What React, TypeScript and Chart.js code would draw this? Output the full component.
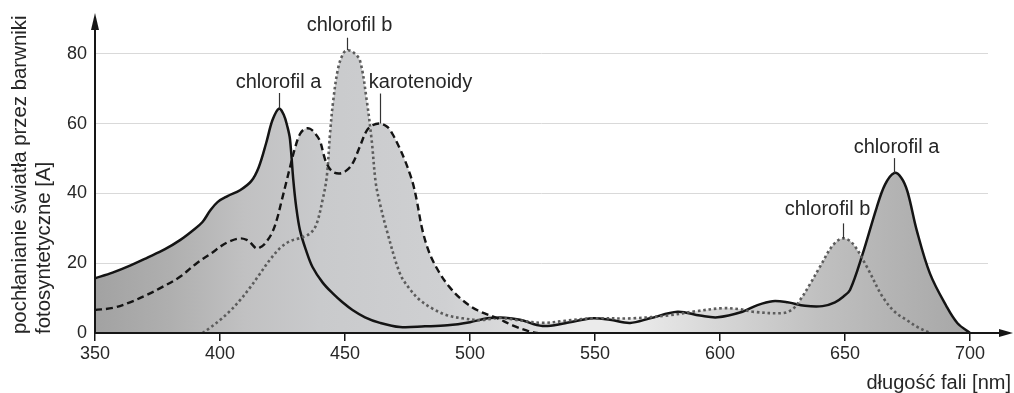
import React, { useEffect, useRef } from "react";
import { Chart, registerables } from "chart.js";

Chart.register(...registerables);

// ---- data ----
const wavelengthTicks = [350, 400, 450, 500, 550, 600, 650, 700];
const absorbanceTicks = [0, 20, 40, 60, 80];

const chlorophyllA_nm = [350, 357, 364, 371, 378, 384, 389, 393, 396, 399, 403, 408, 412.5, 415.5, 418.5, 421, 423.6, 425.5, 427, 428, 429.3, 430.5, 432, 434.5, 437, 441, 445, 449, 453, 458, 464, 472, 482, 491, 500, 507, 514, 520, 529, 538, 549, 556, 564, 572, 583, 592, 599, 609, 615, 621, 627, 634, 641, 646, 649.3, 652, 657, 662.7, 666, 669.6, 672.5, 675, 678.7, 684, 690.7, 695, 700];
const chlorophyllA_abs = [15.7, 17.3, 19.3, 21.6, 24.0, 26.6, 29.3, 31.8, 35.0, 37.5, 39.2, 40.9, 43.5, 47.5, 54.5, 61.0, 64.3, 62.5, 59.0, 55.5, 44.0, 36.0, 29.4, 23.5, 18.9, 14.5, 11.4, 8.8, 6.6, 4.5, 2.9, 1.7, 1.9, 2.2, 3.1, 4.2, 4.4, 3.8, 2.0, 2.8, 4.2, 3.8, 2.9, 4.2, 6.1, 5.0, 4.5, 6.1, 8.0, 9.1, 8.8, 7.8, 7.7, 8.8, 10.4, 12.3, 22.5, 36.0, 42.5, 45.8, 44.5, 40.5, 29.4, 17.0, 7.5, 2.8, 0];

const chlorophyllB_nm = [393, 396, 400, 404, 408, 412, 416, 420, 424, 428, 432, 436, 438.5, 441, 442.7, 444, 445.3, 447.3, 449.5, 451.3, 453.5, 456, 458.7, 460.7, 462.3, 464, 466.7, 472, 476, 480, 485, 490.7, 497, 504, 512, 520, 529, 538, 549, 565, 580, 590, 601, 608, 613, 625, 629, 632, 636, 640, 645, 649, 653, 658.7, 665, 670, 674.7, 679, 684];
const chlorophyllB_abs = [0, 1.5, 3.7, 6.3, 9.4, 13.0, 17.0, 21.0, 24.3, 26.3, 27.2, 28.5, 31.0, 38.0, 44.7, 57.0, 66.6, 76.0, 80.3, 81.0, 80.3, 78.0, 66.6, 55.0, 43.0, 37.0, 29.4, 17.0, 12.5, 9.4, 7.0, 5.1, 4.2, 3.7, 4.3, 3.6, 2.9, 3.5, 4.2, 4.2, 5.1, 6.2, 7.1, 6.8, 6.1, 5.7, 6.8, 9.4, 14.0, 19.0, 25.0, 27.1, 25.7, 19.0, 10.4, 6.0, 3.7, 1.7, 0];

const carotenoids_nm = [350, 357.3, 364, 370.7, 377, 384, 390.7, 397.3, 400, 404, 408, 410.7, 412, 414.7, 416.7, 418, 420.7, 422.7, 424.7, 426.7, 428, 430, 432, 434, 436, 438, 440, 441.5, 442.7, 445, 448, 450.5, 453, 456, 458.7, 461, 464, 467, 469, 471.5, 474, 476, 477.3, 478.7, 481, 484, 488, 492, 497, 503, 510.7, 517, 524, 527];
const carotenoids_abs = [6.6, 7.2, 8.8, 10.9, 13.2, 16.1, 20.0, 23.2, 24.7, 26.3, 27.1, 26.7, 26.0, 24.2, 24.8, 25.6, 28.5, 32.4, 38.0, 43.7, 47.5, 53.0, 57.0, 58.5, 58.5, 57.2, 55.0, 51.0, 48.5, 46.2, 45.7, 46.5, 48.5, 53.5, 58.0, 59.5, 60.0, 59.0, 57.0, 53.5, 49.4, 45.5, 42.5, 38.0, 29.4, 22.5, 17.0, 13.0, 9.4, 6.5, 4.3, 2.2, 0.4, 0];

const seriesNames = ["chlorofil a", "chlorofil b", "karotenoidy"];

const peakLabels = ["chlorofil b", "chlorofil a", "karotenoidy", "chlorofil a", "chlorofil b"];
const peakNm = [450.7, 423.6, 464, 669.6, 649.2];
const peakAbs = [81, 64.3, 60, 45.8, 27.1];

const xAxisTitle = "długość fali [nm]";
const yAxisTitleLines = ["pochłanianie światła przez barwniki", "fotosyntetyczne [A]"];

// ---- styles ----
const FONT = '"Liberation Sans", Arial, Helvetica, sans-serif';
const TEXT = "#262626";
const AXIS = "#161616";
const gradientStopsNm = [350, 380, 410, 440, 490, 520, 545, 565, 600, 640, 670, 700];
const gradientStopsColor = ["#a2a2a2", "#afafaf", "#c1c1c2", "#c9cacc", "#cfd0d2", "#dcdcdd", "#ebebeb", "#ebebeb", "#d6d6d6", "#c0c0c0", "#b3b3b3", "#a7a7a7"];
const labelLeaderLen = [12.5, 15.5, 30, 15, 15];
const labelGap = [7, 5, 6, 5, 8];
const labelDx = [2, -1, 40, 2, -16];

const toPoints = (xs: number[], ys: number[]) => xs.map((x, i) => ({ x, y: ys[i] }));

const fillGradient = (context: any) => {
  const chart = context.chart;
  if (!chart.chartArea || !chart.scales.x) return "#c6c6c6";
  const xs = chart.scales.x;
  const x0 = xs.getPixelForValue(350);
  const x1 = xs.getPixelForValue(700);
  const g = chart.ctx.createLinearGradient(x0, 0, x1, 0);
  gradientStopsNm.forEach((nm, i) => {
    g.addColorStop((nm - 350) / 350, gradientStopsColor[i]);
  });
  return g;
};

const decorations = {
  id: "decorations",
  afterDatasetsDraw(chart: any) {
    const { ctx, scales } = chart;
    const xs = scales.x;
    const ys = scales.y;
    const x0 = xs.getPixelForValue(350);
    const y0 = ys.getPixelForValue(0);
    ctx.save();
    // axes
    ctx.strokeStyle = AXIS;
    ctx.fillStyle = AXIS;
    ctx.lineWidth = 2;
    ctx.beginPath();
    ctx.moveTo(x0, y0 + 1);
    ctx.lineTo(x0, 26);
    ctx.stroke();
    ctx.beginPath();
    ctx.moveTo(x0 - 4, 30);
    ctx.lineTo(x0, 13);
    ctx.lineTo(x0 + 4, 30);
    ctx.closePath();
    ctx.fill();
    ctx.beginPath();
    ctx.moveTo(x0 - 1, y0);
    ctx.lineTo(1002, y0);
    ctx.stroke();
    ctx.beginPath();
    ctx.moveTo(999, y0 - 4);
    ctx.lineTo(1013, y0);
    ctx.lineTo(999, y0 + 4);
    ctx.closePath();
    ctx.fill();

    // peak labels
    ctx.lineWidth = 1.2;
    ctx.strokeStyle = "#333";
    ctx.fillStyle = TEXT;
    ctx.font = `20px ${FONT}`;
    ctx.textAlign = "center";
    ctx.textBaseline = "alphabetic";
    peakLabels.forEach((label, i) => {
      const px = Math.round(xs.getPixelForValue(peakNm[i])) + 0.5;
      const py = ys.getPixelForValue(peakAbs[i]);
      const top = py - labelLeaderLen[i];
      ctx.beginPath();
      ctx.moveTo(px, py);
      ctx.lineTo(px, top);
      ctx.stroke();
      ctx.fillText(label, px + labelDx[i], top - labelGap[i]);
    });

    // axis titles
    ctx.font = `20px ${FONT}`;
    ctx.textAlign = "right";
    ctx.fillText(xAxisTitle, 1011, 389);

    ctx.font = `20.4px ${FONT}`;
    ctx.textAlign = "left";
    const baselines = [26, 50];
    yAxisTitleLines.forEach((line, i) => {
      ctx.save();
      ctx.translate(baselines[i], 334);
      ctx.rotate(-Math.PI / 2);
      ctx.fillText(line, 0, 0);
      ctx.restore();
    });
    ctx.restore();
  },
};

export default function App() {
  const canvasRef = useRef<HTMLCanvasElement | null>(null);

  useEffect(() => {
    const canvas = canvasRef.current;
    if (!canvas) return;
    const common = {
      fill: "origin",
      backgroundColor: fillGradient,
      pointRadius: 0,
      pointHoverRadius: 0,
      cubicInterpolationMode: "default" as const,
      tension: 0.35,
    };
    const chart = new Chart(canvas, {
      type: "line",
      data: {
        datasets: [
          {
            ...common,
            label: seriesNames[2],
            data: toPoints(carotenoids_nm, carotenoids_abs),
            borderColor: "#141414",
            borderWidth: 2.4,
            borderDash: [7, 4],
          },
          {
            ...common,
            label: seriesNames[1],
            data: toPoints(chlorophyllB_nm, chlorophyllB_abs),
            borderColor: "#5c5c5c",
            borderWidth: 2.6,
            borderDash: [2.6, 2.8],
          },
          {
            ...common,
            label: seriesNames[0],
            data: toPoints(chlorophyllA_nm, chlorophyllA_abs),
            borderColor: "#141414",
            borderWidth: 2.5,
          },
        ],
      },
      options: {
        responsive: false,
        animation: false,
        devicePixelRatio: 1,
        layout: { padding: { left: 0, right: 26, top: 18, bottom: 0 } },
        plugins: {
          legend: { display: false },
          tooltip: { enabled: false },
          filler: { drawTime: "beforeDatasetsDraw" },
        },
        events: [],
        scales: {
          x: {
            type: "linear",
            min: 350,
            max: 707.2,
            afterBuildTicks: (scale: any) => {
              scale.ticks = wavelengthTicks.map((v) => ({ value: v }));
            },
            afterFit: (scale: any) => {
              scale.height = 60;
            },
            grid: {
              display: true,
              drawOnChartArea: false,
              drawTicks: true,
              tickLength: 8,
              color: AXIS,
              lineWidth: 1.5,
            },
            border: { display: false },
            ticks: {
              color: TEXT,
              font: { family: FONT, size: 18 },
              padding: 2.5,
              maxRotation: 0,
              autoSkip: false,
            },
          },
          y: {
            type: "linear",
            min: 0,
            max: 90,
            afterBuildTicks: (scale: any) => {
              scale.ticks = absorbanceTicks.map((v) => ({ value: v }));
            },
            afterFit: (scale: any) => {
              scale.width = 95;
            },
            grid: {
              display: true,
              drawOnChartArea: true,
              drawTicks: false,
              color: "#d9d9d9",
              lineWidth: 1,
            },
            border: { display: false },
            ticks: {
              color: TEXT,
              font: { family: FONT, size: 18 },
              padding: 8,
              autoSkip: false,
            },
          },
        },
      },
      plugins: [decorations],
    } as any);
    return () => chart.destroy();
  }, []);

  return (
    <div style={{ position: "fixed", left: 0, top: 0, width: 1014, height: 393, background: "#fff" }}>
      <canvas ref={canvasRef} width={1014} height={393} style={{ display: "block", width: 1014, height: 393 }} />
    </div>
  );
}
